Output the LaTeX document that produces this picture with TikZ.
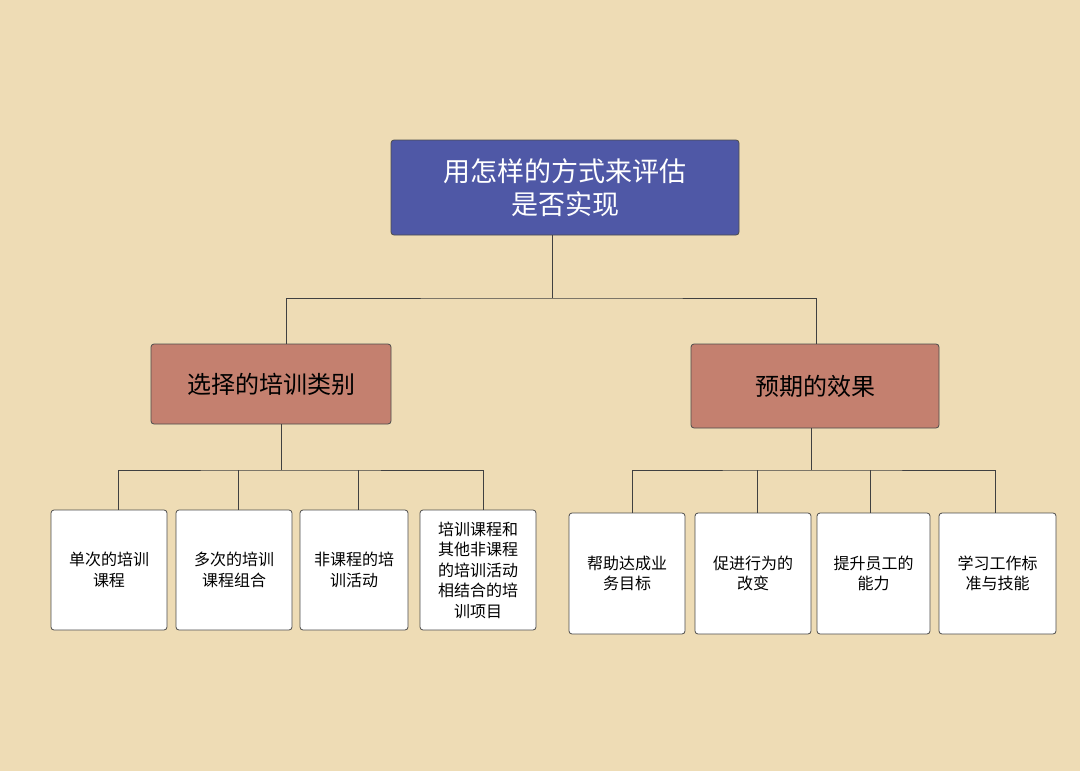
\documentclass[tikz,border=0pt]{standalone}
\usepackage{fontspec}
\setmainfont{Noto Sans CJK SC}
\begin{document}
\begin{tikzpicture}[x=1pt,y=-1pt,
 box/.style={draw=black!70,line width=0.8pt,rounded corners=3pt,inner sep=0pt,align=center},
 leaf/.style={box,fill=white,font=\fontsize{16}{20.5}\selectfont},
 mid/.style={box,fill=mycol,font=\fontsize{24}{28}\selectfont},
 ln/.style={draw=black!75,line width=0.8pt}]
\definecolor{bg}{HTML}{EEDCB5}
\definecolor{topc}{HTML}{4F58A6}
\definecolor{mycol}{HTML}{C4806F}
\fill[bg] (0,0) rectangle (1080,771);
\useasboundingbox (0,0) rectangle (1080,771);
\node[box,fill=topc,text=white,font=\fontsize{27}{33}\selectfont,minimum width=348pt,minimum height=95pt] (top) at (565,187.5) {用怎样的方式来评估\\是否实现};
\node[mid,minimum width=240pt,minimum height=80pt] (L) at (271,384) {选择的培训类别};
\node[mid,minimum width=248pt,minimum height=84pt] (R) at (815,386) {预期的效果};
\node[leaf,minimum width=116pt,minimum height=120pt] (l1) at (109,570) {单次的培训\\课程};
\node[leaf,minimum width=116pt,minimum height=120pt] (l2) at (234,570) {多次的培训\\课程组合};
\node[leaf,minimum width=108pt,minimum height=120pt] (l3) at (354,570) {非课程的培\\训活动};
\node[leaf,minimum width=116pt,minimum height=120pt] (l4) at (478,570) {培训课程和\\其他非课程\\的培训活动\\相结合的培\\训项目};
\node[leaf,minimum width=116pt,minimum height=121pt] (r1) at (627,573.5) {帮助达成业\\务目标};
\node[leaf,minimum width=116pt,minimum height=121pt] (r2) at (753,573.5) {促进行为的\\改变};
\node[leaf,minimum width=113pt,minimum height=121pt] (r3) at (873.5,573.5) {提升员工的\\能力};
\node[leaf,minimum width=117pt,minimum height=121pt] (r4) at (997.5,573.5) {学习工作标\\准与技能};
\coordinate (tj) at (552,298);
\draw[ln] (552,235) -- (tj);
\draw[ln] (L.north -| 286,0) |- (tj) -| (R.north -| 816,0);
\coordinate (lj) at (281,470);
\draw[ln] (281,424) -- (lj);
\draw[ln] (l1.north -| 118,0) |- (lj) -| (l4.north -| 483,0);
\draw[ln] (l2.north -| 238,0) -- ++(0,-40);
\draw[ln] (l3.north -| 358,0) -- ++(0,-40);
\coordinate (rj) at (811,470);
\draw[ln] (811,428) -- (rj);
\draw[ln] (r1.north -| 632,0) |- (rj) -| (r4.north -| 995,0);
\draw[ln] (r2.north -| 757,0) -- ++(0,-43);
\draw[ln] (r3.north -| 870,0) -- ++(0,-43);
\end{tikzpicture}
\end{document}
